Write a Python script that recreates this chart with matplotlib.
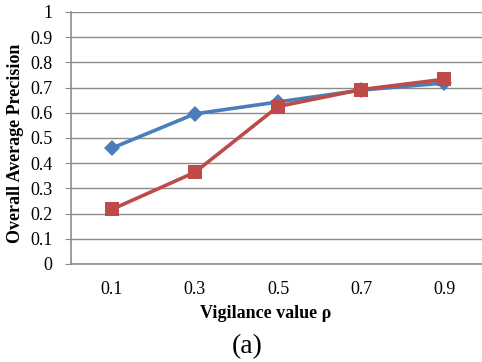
import numpy as np
import matplotlib
matplotlib.use("Agg")
import matplotlib.pyplot as plt

plt.rcParams['font.family'] = ['Liberation Serif', 'DejaVu Serif']

rho_labels = ['0.1', '0.3', '0.5', '0.7', '0.9']
blue_values = [0.46, 0.596, 0.643, 0.69, 0.718]
red_values = [0.217, 0.364, 0.625, 0.692, 0.733]

W, H = 482, 362
fig = plt.figure(figsize=(W / 100, H / 100), dpi=100)
ax = fig.add_axes([70.5 / W, (H - 264) / H, 415 / W, 252 / H])

x = np.arange(len(rho_labels))
ax.plot(x, blue_values, color='#4A7EBB', lw=2.6, marker='D', ms=8,
        markeredgewidth=0, zorder=3)
ax.plot(x, red_values, color='#BE4B48', lw=2.6, marker='s', ms=10,
        markeredgewidth=0, zorder=4)

ax.set_xlim(-0.5, 4.5)
ax.set_ylim(0, 1)
ax.set_yticks(np.arange(0, 1.01, 0.1))
ax.set_yticklabels(['0', '0.1', '0.2', '0.3', '0.4', '0.5', '0.6', '0.7', '0.8', '0.9', '1'])
ax.set_xticks(x)
ax.set_xticklabels(rho_labels)
ax.yaxis.grid(True, color='#8c8c8c', lw=1)
ax.set_axisbelow(True)

for s in ['top', 'right']:
    ax.spines[s].set_visible(False)
ax.spines['left'].set_color('#8c8c8c')
ax.spines['bottom'].set_color('#8c8c8c')
ax.spines['left'].set_linewidth(1.2)
ax.spines['bottom'].set_linewidth(1.2)
ax.tick_params(axis='y', length=4, color='#8c8c8c', labelsize=13, pad=9)
ax.tick_params(axis='x', length=0, labelsize=13, pad=12)

ax.set_ylabel('Overall Average Precision', fontsize=13, fontweight='bold')
ax.yaxis.set_label_coords(16 / W, 1 - 143 / H, transform=fig.transFigure)
ax.yaxis.label.set_verticalalignment('center')
ax.set_xlabel('Vigilance value ρ', fontsize=13, fontweight='bold')
ax.xaxis.set_label_coords(266 / W, 1 - 313 / H, transform=fig.transFigure)
ax.xaxis.label.set_verticalalignment('center')
fig.text(247 / W, 1 - 347 / H, '(a)', fontsize=20, ha='center', va='center')

fig.savefig('out.png', dpi=100)
